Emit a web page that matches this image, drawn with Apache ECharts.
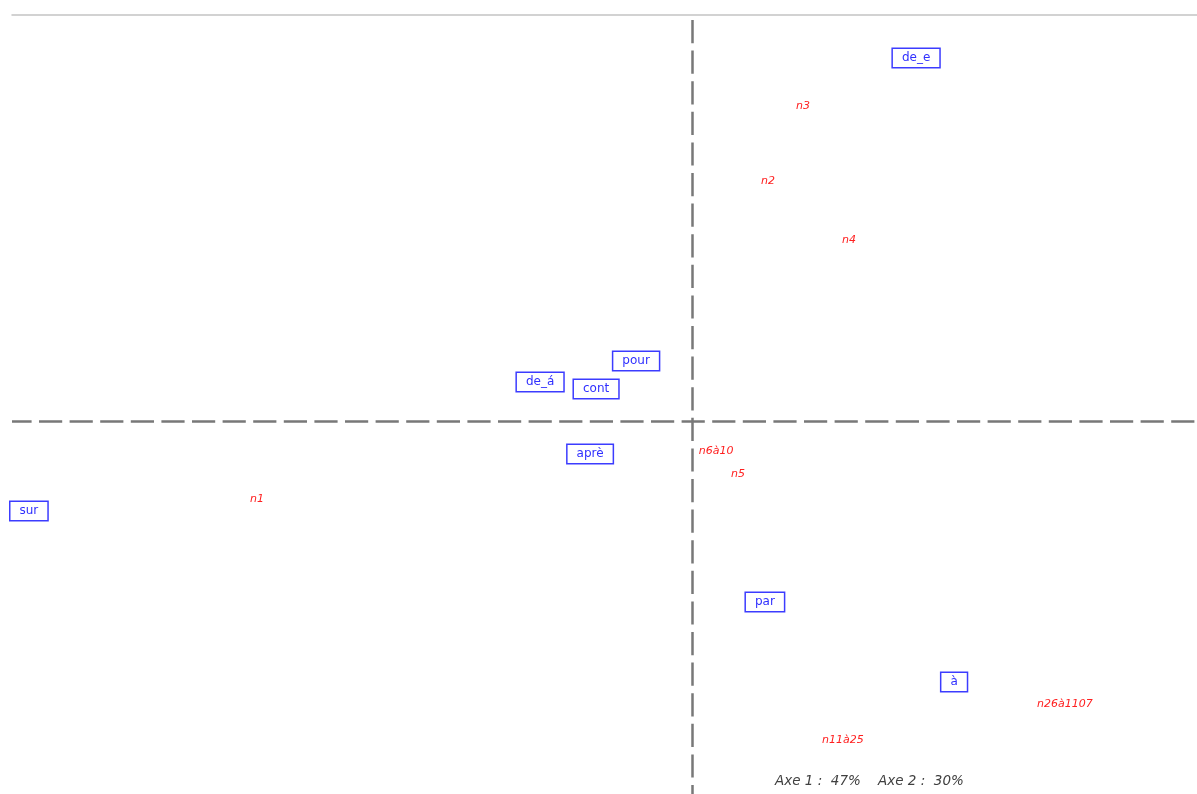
<!DOCTYPE html>
<html>
<head>
<meta charset="utf-8">
<script src="https://cdn.jsdelivr.net/npm/echarts@6/dist/echarts.min.js"></script>
<style>
html,body{margin:0;padding:0;background:#fff;}
#main{width:1197px;height:794px;}
</style>
</head>
<body>
<div id="main"></div>
<script>
// Column categories (boxed, blue)
var colLabels = ['de_e', 'pour', 'de_á', 'cont', 'aprè', 'sur', 'par', 'à'];
var colX = [0.559, -0.141, -0.381, -0.241, -0.256, -1.659, 0.181, 0.654];
var colY = [0.9075, 0.150, 0.0975, 0.080, -0.0825, -0.225, -0.4525, -0.6525];

// Row categories (italic, red)
var rowLabels = ['n3', 'n2', 'n4', 'n6à10', 'n5', 'n1', 'n26à1107', 'n11à25'];
var rowX = [0.276, 0.189, 0.391, 0.059, 0.114, -1.089, 0.931, 0.376];
var rowY = [0.7875, 0.600, 0.4525, -0.075, -0.1325, -0.195, -0.7075, -0.7975];

var axisNote = 'Axe 1 :  47%    Axe 2 :  30%';

function build(labels, xs, ys) {
  return labels.map(function (l, i) { return { name: l, value: [xs[i], ys[i]] }; });
}

var FONT = 'DejaVu Sans, Liberation Sans, Arial, sans-serif';
var chart = echarts.init(document.getElementById('main'));
chart.setOption({
  animation: false,
  backgroundColor: '#ffffff',
  title: {
    text: axisNote,
    left: 770, top: 769,
    textStyle: { fontFamily: FONT, fontStyle: 'italic', fontWeight: 'normal', fontSize: 13.5, color: '#404040' }
  },
  grid: { left: 12, right: 0, top: 15, bottom: 0, containLabel: false },
  xAxis: {
    type: 'value', min: -1.70125, max: 1.26125, position: 'top',
    axisLine: { show: true, onZero: false, lineStyle: { color: '#c4c4c4', width: 1.5 } },
    axisTick: { show: false }, axisLabel: { show: false }, splitLine: { show: false }
  },
  yAxis: {
    type: 'value', min: -0.9325, max: 1.015,
    axisLine: { show: false }, axisTick: { show: false }, axisLabel: { show: false }, splitLine: { show: false }
  },
  series: [
    {
      type: 'scatter',
      data: build(colLabels, colX, colY),
      symbolSize: 1,
      itemStyle: { color: 'rgba(0,0,0,0)', opacity: 1 },
      label: {
        show: true, position: 'inside', formatter: '{b}',
        fontFamily: FONT, fontSize: 12, color: '#3030ff',
        borderColor: '#3c3cff', borderWidth: 1.5, backgroundColor: '#ffffff',
        padding: [2, 9, 2, 9], lineHeight: 14
      },
      markLine: {
        silent: true, symbol: ['none', 'none'], label: { show: false },
        lineStyle: { color: '#787878', width: 2.5, type: [23.2, 7.4], opacity: 1 },
        data: [
          { xAxis: 0, lineStyle: { dashOffset: 14.2 } },
          { yAxis: 0, lineStyle: { dashOffset: 3.6 } }
        ]
      },
      z: 3
    },
    {
      type: 'scatter',
      data: build(rowLabels, rowX, rowY),
      symbolSize: 1,
      itemStyle: { color: 'rgba(0,0,0,0)', opacity: 1 },
      label: {
        show: true, position: 'inside', formatter: '{b}',
        fontFamily: FONT, fontStyle: 'italic', fontSize: 11, color: '#ff2020'
      },
      z: 4
    }
  ]
});
</script>
</body>
</html>
